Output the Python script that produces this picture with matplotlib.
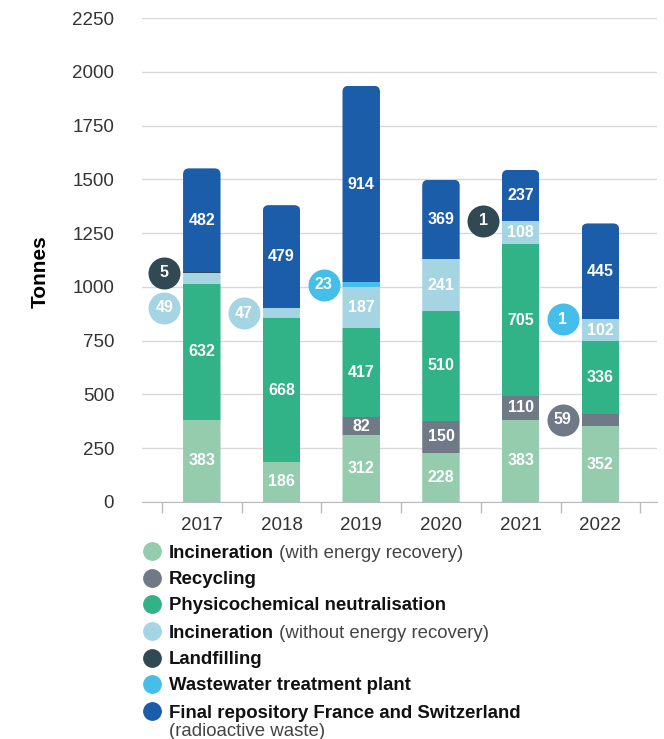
import numpy as np
import matplotlib.pyplot as plt
from matplotlib.patches import FancyBboxPatch
from matplotlib.lines import Line2D

plt.rcParams['font.family'] = ['Liberation Sans', 'DejaVu Sans']

# data (tonnes)
years = ['2017', '2018', '2019', '2020', '2021', '2022']
incin_energy = [383, 186, 312, 228, 383, 352]
recycling = [0, 0, 82, 150, 110, 59]
physchem = [632, 668, 417, 510, 705, 336]
incin_no_energy = [49, 47, 187, 241, 108, 102]
landfill = [5, 0, 0, 0, 1, 0]
wastewater = [0, 0, 23, 0, 0, 1]
final_repo = [482, 479, 914, 369, 237, 445]

legend_bold = ['Incineration', 'Recycling', 'Physicochemical neutralisation',
               'Incineration', 'Landfilling', 'Wastewater treatment plant',
               'Final repository France and Switzerland']
legend_rest = [' (with energy recovery)', '', '', ' (without energy recovery)',
               '', '', '']

series = [incin_energy, recycling, physchem, incin_no_energy,
          landfill, wastewater, final_repo]
colors = ['#96CCAE', '#6F7A86', '#32B287', '#A5D5E2', '#314953', '#45BFEA', '#1C5DA9']

fig = plt.figure(figsize=(6.64, 7.39), dpi=100)
W, H = 664, 739
ax = fig.add_axes([142 / W, 1 - 502 / H, 515 / W, 484 / H])
ax.set_xlim(-0.75, 5.71)
ax.set_ylim(0, 2250)

x = np.arange(len(years))
bw = 0.47
bottom = np.zeros(len(years))
containers = []
for vals, col in zip(series, colors):
    bars = ax.bar(x, vals, bw, bottom=bottom, color=col, linewidth=0, zorder=3)
    containers.append((bars, np.array(vals), bottom.copy()))
    bottom += np.array(vals)
totals = bottom

# rounded top corners: clip every segment to a rounded box over the whole bar
px_x = 515 / (5.71 + 0.75)
px_y = 484 / 2250
r = 6 / px_x
for i in range(len(years)):
    clip = FancyBboxPatch((x[i] - bw / 2, -100), bw, totals[i] + 100,
                          boxstyle=f'round,pad=0,rounding_size={r}',
                          mutation_aspect=px_x / px_y, transform=ax.transData)
    for bars, _, _ in containers:
        bars[i].set_clip_path(clip)

# labels inside bars / callout circles for small values
circ = 32 / 1.389
for k in range(len(series) - 1, -1, -1):
    bars, vals, bots = containers[k]
    for i in range(len(years)):
        v = vals[i]
        if v <= 0:
            continue
        yc = bots[i] + v / 2
        if v >= 60:
            ax.text(x[i], yc, str(v), color='white', fontsize=11.5, fontweight='bold',
                    ha='center', va='center', zorder=5)
        else:
            # shift down when another callout sits on the same spot
            others = [c for c in ax.lines if abs(c.get_xdata()[0] - (x[i] - 0.47)) < 0.01]
            for o in others:
                if abs(o.get_ydata()[0] - yc) * px_y < 34:
                    yc = o.get_ydata()[0] - 35 / px_y
            ax.plot([x[i] - 0.47], [yc], 'o', ms=circ, color=colors[k], mew=0,
                    zorder=6, clip_on=False)
            ax.text(x[i] - 0.47, yc, str(v), color='white', fontsize=11.5,
                    fontweight='bold', ha='center', va='center', zorder=7)

# axes styling
ax.set_yticks(np.arange(0, 2251, 250))
ax.tick_params(axis='y', length=0, pad=20, labelsize=13.5, labelcolor='#333333')
ax.yaxis.grid(True, color='#D9D9D9', linewidth=1, zorder=0)
ax.set_axisbelow(True)
ax.set_xticks(x)
ax.set_xticklabels(years)
ax.tick_params(axis='x', length=0, pad=11, labelsize=13.5, labelcolor='#333333')
ax.set_xticks(np.arange(-0.5, 6, 1), minor=True)
ax.tick_params(axis='x', which='minor', length=8, color='#BBBBBB', width=1)
for s in ['top', 'right', 'left']:
    ax.spines[s].set_visible(False)
ax.spines['bottom'].set_color('#BBBBBB')

fig.text(40 / W, 1 - 272 / H, 'Tonnes', rotation=90, fontsize=15, fontweight='bold',
         ha='center', va='center')

# legend
fs = 13.4
rows = [551, 578, 604, 631, 658, 684, 711]
renderer = fig.canvas.get_renderer()
for col, b, rest, yy in zip(colors, legend_bold, legend_rest, rows):
    fig.add_artist(Line2D([152 / W], [1 - yy / H], marker='o', ms=12.5, color=col,
                          transform=fig.transFigure))
    yb = 1 - (yy + 6.5) / H
    t = fig.text(169 / W, yb, b, fontsize=fs, fontweight='bold',
                 color='#111111', ha='left', va='baseline')
    if rest:
        wpx = t.get_window_extent(renderer).width
        fig.text((169 + wpx) / W, yb, rest, fontsize=fs, color='#444444',
                 ha='left', va='baseline')
fig.text(169 / W, 1 - (729 + 6.5) / H, '(radioactive waste)', fontsize=fs,
         color='#444444', ha='left', va='baseline')

fig.savefig('out.png', dpi=100)
